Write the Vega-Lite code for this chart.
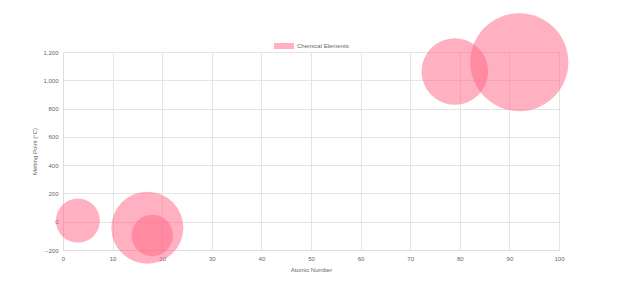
{
  "$schema": "https://vega.github.io/schema/vega-lite/v6.json",
  "autosize": "none",
  "width": 496,
  "height": 198,
  "padding": {"left": 63, "top": 52, "right": 67, "bottom": 50},
  "background": "white",
  "config": {
    "view": {"stroke": null},
    "font": "Liberation Sans",
    "axis": {
      "labelFont": "Liberation Sans",
      "titleFont": "Liberation Sans",
      "labelFontSize": 6,
      "titleFontSize": 6,
      "titleFontWeight": "normal",
      "labelColor": "#666666",
      "titleColor": "#666666",
      "gridColor": "#e5e5e5",
      "domainColor": "#dddddd",
      "ticks": false,
      "labelFlush": false
    }
  },
  "data": {
    "values": [
      {"element": "Lithium", "atomicNumber": 3, "meltingPoint": 8, "r": 22, "series": "Chemical Elements"},
      {"element": "Chlorine", "atomicNumber": 17, "meltingPoint": -42, "r": 36, "series": "Chemical Elements"},
      {"element": "Argon", "atomicNumber": 18, "meltingPoint": -97, "r": 20.7, "series": "Chemical Elements"},
      {"element": "Gold", "atomicNumber": 79, "meltingPoint": 1062, "r": 33.3, "series": "Chemical Elements"},
      {"element": "Uranium", "atomicNumber": 92, "meltingPoint": 1128, "r": 49, "series": "Chemical Elements"}
    ]
  },
  "mark": {"type": "point", "shape": "circle", "filled": true, "fillOpacity": 0.5, "opacity": 1, "clip": false},
  "encoding": {
    "x": {
      "field": "atomicNumber",
      "type": "quantitative",
      "title": "Atomic Number",
      "scale": {"domain": [0, 100], "nice": false, "zero": false},
      "axis": {"values": [0, 10, 20, 30, 40, 50, 60, 70, 80, 90, 100], "labelPadding": 5, "titlePadding": 5}
    },
    "y": {
      "field": "meltingPoint",
      "type": "quantitative",
      "title": "Melting Point (°C)",
      "scale": {"domain": [-200, 1200], "nice": false, "zero": false},
      "axis": {"values": [-200, 0, 200, 400, 600, 800, 1000, 1200], "format": ",.0f", "labelPadding": 5, "titlePadding": 5}
    },
    "size": {
      "field": "r",
      "type": "quantitative",
      "scale": {"type": "pow", "exponent": 2, "domain": [0, 50], "range": [0, 10000]},
      "legend": null
    },
    "color": {
      "field": "series",
      "type": "nominal",
      "title": null,
      "scale": {"range": ["rgb(255,99,132)"]},
      "legend": {
        "orient": "none",
        "legendX": 211,
        "legendY": -16,
        "symbolType": "M-1,-0.3H1V0.3H-1Z",
        "symbolSize": 400,
        "symbolOpacity": 0.5,
        "symbolStrokeWidth": 0,
        "labelFont": "Liberation Sans",
        "labelFontSize": 6,
        "labelColor": "#666666",
        "labelOffset": 3
      }
    }
  }
}
